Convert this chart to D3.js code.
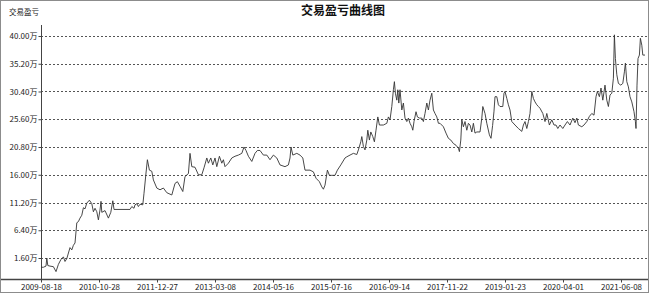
<!DOCTYPE html>
<html>
<head>
<meta charset="utf-8">
<script src="https://cdn.jsdelivr.net/npm/d3@7"></script>
<style>
  body { margin: 0; background: #fff; }
  text { font-family: "Noto Sans CJK SC", "Noto Sans", sans-serif; }
</style>
</head>
<body>
<svg id="chart" width="654" height="294"></svg>
<script>
// trade day index (from 2009-08-18) and cumulative P&L in 万
var tradeIdx = [0, 12, 25, 29, 34, 45, 62, 75, 87, 99, 112, 120, 129, 145, 154, 162, 170, 179, 187, 195,
    204, 212, 220, 229, 242, 254, 262, 270, 279, 287, 295, 300, 304, 320, 337, 349, 359, 365, 445, 454,
    465, 470, 479, 487, 495, 509, 515, 525, 532, 542, 554, 562, 579, 595, 612, 629, 654, 670, 682, 695,
    709, 720, 737, 745, 754, 770, 787, 804, 815, 829, 837, 849, 859, 870, 879, 892, 904, 912, 920, 937,
    954, 970, 987, 1004, 1015, 1025, 1037, 1054, 1070, 1082, 1095, 1112, 1129, 1145, 1162, 1179, 1195, 1220, 1237, 1245,
    1250, 1259, 1279, 1295, 1309, 1320, 1345, 1362, 1375, 1392, 1404, 1412, 1420, 1432, 1442, 1454, 1470, 1482, 1499, 1520,
    1529, 1545, 1562, 1579, 1587, 1599, 1604, 1612, 1620, 1629, 1634, 1642, 1649, 1659, 1667, 1675, 1684, 1692, 1712, 1729,
    1737, 1745, 1754, 1762, 1767, 1772, 1779, 1784, 1789, 1795, 1804, 1812, 1820, 1829, 1837, 1845, 1854, 1859, 1865, 1875,
    1882, 1892, 1904, 1912, 1920, 1929, 1937, 1945, 1954, 1962, 1970, 1979, 1987, 1995, 2012, 2025, 2037, 2049, 2062, 2075,
    2087, 2092, 2099, 2104, 2112, 2120, 2129, 2137, 2145, 2154, 2162, 2170, 2179, 2195, 2204, 2209, 2220, 2229, 2242, 2250,
    2258, 2265, 2270, 2279, 2287, 2295, 2309, 2315, 2320, 2329, 2337, 2345, 2354, 2370, 2387, 2404, 2412, 2420, 2429, 2437,
    2445, 2454, 2462, 2470, 2479, 2487, 2495, 2509, 2520, 2529, 2542, 2554, 2565, 2575, 2584, 2595, 2609, 2620, 2632, 2645,
    2659, 2670, 2679, 2687, 2704, 2715, 2729, 2742, 2754, 2765, 2775, 2782, 2792, 2800, 2809, 2820, 2829, 2837, 2845, 2854,
    2862, 2867, 2872, 2879, 2887, 2899, 2909, 2917, 2922, 2929, 2937, 2945, 2954, 2965, 2972, 2975, 2980, 2985, 2992, 2997,
    3004, 3009, 3020]

var pnl = [0.0, 0.0, 0.2, 1.6, 0.3, 0.2, 0.1, -0.75, 0.5, 1.3, 1.8, 1.0, 1.5, 3.4, 3.0, 3.8, 4.2, 7.7, 7.9, 8.5,
    9.0, 10.3, 10.1, 11.1, 11.6, 11.0, 9.6, 10.2, 9.6, 8.2, 9.9, 11.4, 9.5, 9.8, 8.5, 9.5, 11.5, 10.0, 10.0, 10.5,
    10.2, 10.8, 11.0, 10.5, 10.9, 10.8, 12.8, 16.3, 18.6, 16.8, 16.6, 15.1, 13.7, 13.4, 13.7, 12.9, 12.5, 14.5, 14.8, 14.0,
    13.1, 15.7, 16.2, 19.7, 17.4, 17.3, 16.0, 16.0, 17.2, 18.9, 18.0, 18.9, 17.7, 18.9, 17.4, 19.2, 18.0, 18.6, 17.4, 18.0,
    18.9, 19.2, 19.4, 19.7, 20.8, 20.2, 19.2, 18.3, 19.7, 20.2, 20.2, 19.4, 19.4, 18.6, 19.4, 18.9, 17.7, 17.4, 17.7, 18.9,
    20.8, 19.4, 19.7, 19.4, 18.9, 16.8, 16.8, 16.5, 15.4, 14.8, 13.9, 13.5, 14.2, 16.8, 15.9, 15.9, 15.9, 16.8, 17.7, 18.9,
    19.1, 19.4, 19.7, 19.5, 20.3, 21.7, 22.6, 20.9, 20.3, 22.0, 23.7, 22.0, 23.4, 22.6, 21.7, 23.7, 26.0, 24.6, 24.6, 24.9,
    26.0, 25.5, 27.8, 30.7, 32.1, 30.1, 28.9, 30.7, 28.4, 30.7, 27.2, 28.4, 25.8, 25.2, 25.8, 24.9, 24.3, 23.7, 25.2, 26.9,
    26.0, 25.8, 25.8, 25.2, 26.6, 28.4, 27.2, 28.9, 30.1, 27.2, 26.6, 26.0, 24.9, 24.9, 24.3, 23.2, 22.3, 22.0, 21.4, 21.1,
    20.6, 20.0, 22.0, 25.5, 24.3, 25.2, 23.7, 24.9, 24.6, 23.4, 24.9, 23.2, 23.4, 23.4, 25.8, 27.8, 26.6, 24.9, 22.9, 22.3,
    24.5, 27.0, 29.5, 29.5, 28.1, 27.8, 27.8, 30.1, 30.4, 29.2, 28.1, 27.2, 25.2, 24.6, 24.0, 23.5, 24.6, 25.2, 24.0, 25.2,
    26.6, 30.4, 29.2, 28.6, 28.1, 27.8, 27.5, 26.6, 25.2, 26.6, 24.6, 25.5, 24.6, 24.6, 24.0, 24.6, 24.0, 24.6, 25.2, 24.6,
    25.8, 25.0, 25.8, 24.6, 24.3, 24.6, 25.2, 26.1, 26.6, 26.3, 29.5, 30.4, 29.5, 31.0, 28.9, 31.5, 28.9, 27.8, 29.8, 30.1,
    32.7, 40.2, 36.1, 33.3, 31.8, 31.5, 31.8, 33.8, 35.3, 32.1, 31.2, 29.5, 28.6, 26.9, 25.2, 24.0, 31.5, 36.1, 36.7, 39.6,
    38.4, 36.7, 36.7]

var dateLabels = ["2009-08-18", "2010-10-28", "2011-12-27", "2013-03-08", "2014-05-16", "2015-07-16",
    "2016-09-14", "2017-11-22", "2019-01-23", "2020-04-01", "2021-06-08"]
var dateIdx = [0, 290, 580, 870, 1160, 1450, 1740, 2030, 2320, 2610, 2900]

var yTicks = [1.6, 6.4, 11.2, 16.0, 20.8, 25.6, 30.4, 35.2, 40.0]

var svg = d3.select("#chart")

// outer frame
svg.append("rect")
    .attr("x", 0.5).attr("y", 0.5)
    .attr("width", 648).attr("height", 292)
    .attr("fill", "none")
    .attr("stroke", "#8c8c8c")

var x = d3.scaleLinear().domain([0, 3020]).range([41, 645])
var y = d3.scaleLinear().domain([-2.03, 41.9]).range([279, 25])

// title and unit label
svg.append("text")
    .attr("x", 343).attr("y", 15)
    .attr("text-anchor", "middle")
    .style("font-size", "12px").style("font-weight", "bold")
    .attr("fill", "#111")
    .text("交易盈亏曲线图")

svg.append("text")
    .attr("x", 9).attr("y", 15)
    .style("font-size", "7.5px")
    .attr("fill", "#222")
    .text("交易盈亏")

// dashed grid lines
svg.append("g")
    .selectAll("line")
    .data(yTicks)
    .join("line")
    .attr("x1", 41).attr("x2", 648)
    .attr("y1", function(d) { return Math.round(y(d)) + 0.5 })
    .attr("y2", function(d) { return Math.round(y(d)) + 0.5 })
    .attr("stroke", "#555")
    .attr("stroke-dasharray", "2,2")

// y axis
var yAxis = svg.append("g")
    .attr("transform", "translate(41.5,0)")
    .call(d3.axisLeft(y).tickValues(yTicks).tickSize(3).tickPadding(1)
        .tickFormat(function(d) { return d.toFixed(2) + "万" }))
yAxis.select(".domain").attr("d", "M0,25V279").attr("stroke", "#444")
yAxis.selectAll("text").style("font-size", "8px").attr("fill", "#222")
yAxis.selectAll(".tick line").attr("stroke", "#444")

// x axis
var xAxis = svg.append("g")
    .attr("transform", "translate(0,279.5)")
    .call(d3.axisBottom(x).tickValues(dateIdx).tickSize(3).tickPadding(2)
        .tickFormat(function(d, i) { return dateLabels[i] }))
xAxis.select(".domain").attr("d", "M1,0H648").attr("stroke", "#444").attr("stroke-width", 1.5)
xAxis.selectAll("text").style("font-size", "8px").attr("fill", "#222")
xAxis.selectAll(".tick line").attr("stroke", "#444")

// P&L curve
var line = d3.line()
    .x(function(d, i) { return x(tradeIdx[i]) })
    .y(function(d) { return y(d) })

svg.append("path")
    .datum(pnl)
    .attr("d", line)
    .attr("fill", "none")
    .attr("stroke", "#333")
    .attr("stroke-width", 0.9)
</script>
</body>
</html>
